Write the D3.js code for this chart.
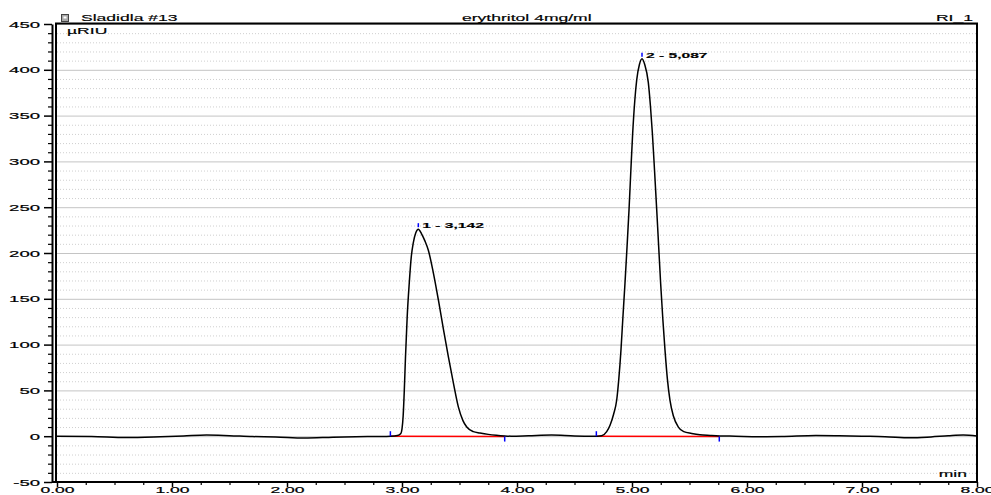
<!DOCTYPE html>
<html>
<head>
<meta charset="utf-8">
<script src="https://cdn.jsdelivr.net/npm/d3@7"></script>
<style>
  body { margin: 0; background: #fff; }
  svg { display: block; font-family: "Liberation Sans", Arial, sans-serif; }
</style>
</head>
<body>
<svg id="chart" width="991" height="495"></svg>
<script>
// retention time (min) and detector signal (µRIU)
const timeMin = [
  0.00, 0.30, 0.60, 0.90, 1.10, 1.30, 1.50, 1.70, 1.90, 2.15, 2.40, 2.60, 2.80, 2.90,
  2.96, 2.99, 3.00, 3.01, 3.02, 3.03, 3.045, 3.063, 3.08, 3.098, 3.12, 3.142,
  3.17, 3.20, 3.229, 3.27, 3.316, 3.36, 3.403, 3.45, 3.49, 3.53, 3.563, 3.62, 3.678, 3.75, 3.82, 3.89,
  3.95, 4.10, 4.30, 4.50, 4.65, 4.70,
  4.736, 4.78, 4.809, 4.84, 4.867, 4.885, 4.904, 4.92, 4.939, 4.957, 4.974, 4.99, 5.006, 5.024, 5.041, 5.065, 5.087,
  5.11, 5.142, 5.16, 5.177, 5.196, 5.215, 5.232, 5.249, 5.268, 5.287, 5.308, 5.33, 5.36, 5.403, 5.45, 5.519, 5.59, 5.68, 5.76,
  5.90, 6.10, 6.30, 6.60, 6.80, 7.00, 7.20, 7.42, 7.60, 7.75, 7.88, 8.00
];
const signal = [
  0.0, -0.3, -1.5, -0.6, 0.3, 1.3, 0.6, -0.4, -0.8, -2.0, -1.1, -0.5, -0.3, 0.0,
  0.8, 3, 8, 22, 50, 85, 130, 167, 195, 211, 222, 226,
  221, 213, 203, 180, 149, 117, 87, 56, 32, 17, 10, 5, 3.5, 2, 1, 0.3,
  0.0, 0.5, 1.2, 0.3, 0.0, 0.0,
  0.5, 5, 12, 24, 39.5, 62, 94, 128, 167, 207, 247, 290, 331, 366, 389, 406, 412,
  406, 386, 361, 331, 290, 247, 207, 167, 128, 94, 62, 39.5, 22, 10, 5, 3, 1.5, 0.8, 0.3,
  0.0, -0.5, -0.3, 0.8, 0.5, 0.0, -0.5, -1.8, -0.8, 0.5, 1.3, 0.2
];

// integrated peaks
const peakLabels = ["1 - 3,142", "2 - 5,087"];
const peakTimes = [3.142, 5.087];
const peakHeights = [226, 412];
const baseStartTimes = [2.899, 4.69];
const baseEndTimes = [3.893, 5.759];
const baseStartValues = [0.0, 0.0];
const baseEndValues = [-0.4, -0.4];

// axes
const yMajorTicks = [-50, 0, 50, 100, 150, 200, 250, 300, 350, 400, 450];
const yMinorTicks = d3.range(-50, 451, 10);
const xMajorTicks = [0, 1, 2, 3, 4, 5, 6, 7, 8];
const xMinorTicks = d3.range(0, 8.01, 0.25);

const SX = 1.95; // the export uses a very wide font
const svg = d3.select("#chart");

const plotL = 57, plotR = 977, plotT = 24, plotB = 482;

const x = d3.scaleLinear().domain([0, 8]).range([plotL, plotR]);
const y = d3.scaleLinear().domain([-50, 450]).range([plotB, plotT]);

function widen(sel) {
  sel.each(function() {
    const t = d3.select(this);
    const px = +t.attr("x") || 0;
    t.attr("x", px / SX).attr("transform", `scale(${SX},1)`);
  });
}

function label(txt, px, py, anchor, size, weight) {
  return svg.append("text")
    .attr("transform", `translate(${px},${py}) scale(${SX},1)`)
    .attr("text-anchor", anchor || "start")
    .style("font-size", (size || 9) + "px")
    .style("font-weight", weight || "normal")
    .attr("fill", "#000")
    .attr("stroke", "#000")
    .attr("stroke-width", 0.15)
    .text(txt);
}

// minor dotted grid
svg.append("g")
  .attr("transform", `translate(${plotL},0)`)
  .call(d3.axisLeft(y).tickValues(yMinorTicks.filter(d => d % 50 !== 0))
    .tickSize(-(plotR - plotL)).tickFormat(""))
  .call(g => g.select(".domain").remove())
  .selectAll("line")
  .attr("stroke", "#cfcfcf")
  .attr("stroke-dasharray", "1,2");

// major solid grid
svg.append("g")
  .attr("transform", `translate(${plotL},0)`)
  .call(d3.axisLeft(y).tickValues(yMajorTicks).tickSize(-(plotR - plotL)).tickFormat(""))
  .call(g => g.select(".domain").remove())
  .selectAll("line")
  .attr("stroke", "#c4c4c4");

// integration baselines (red)
svg.append("g").selectAll("line")
  .data(baseStartTimes)
  .enter().append("line")
  .attr("x1", (d, i) => x(d))
  .attr("y1", (d, i) => y(baseStartValues[i]))
  .attr("x2", (d, i) => x(baseEndTimes[i]))
  .attr("y2", (d, i) => y(baseEndValues[i]))
  .attr("stroke", "#ff0000")
  .attr("stroke-width", 1.5);

// chromatogram trace
const trace = timeMin.map((t, i) => [t, signal[i]]);
svg.append("path")
  .datum(trace)
  .attr("fill", "none")
  .attr("stroke", "#000")
  .attr("stroke-width", 1.5)
  .attr("d", d3.line().x(d => x(d[0])).y(d => y(d[1])).curve(d3.curveMonotoneX));

// peak start / end markers
svg.append("g").selectAll("line")
  .data(baseStartTimes)
  .enter().append("line")
  .attr("x1", d => x(d)).attr("x2", d => x(d))
  .attr("y1", (d, i) => y(baseStartValues[i]) - 5)
  .attr("y2", (d, i) => y(baseStartValues[i]))
  .attr("stroke", "#0000ff").attr("stroke-width", 1.5);

svg.append("g").selectAll("line")
  .data(baseEndTimes)
  .enter().append("line")
  .attr("x1", d => x(d)).attr("x2", d => x(d))
  .attr("y1", (d, i) => y(baseEndValues[i]))
  .attr("y2", (d, i) => y(baseEndValues[i]) + 5)
  .attr("stroke", "#0000ff").attr("stroke-width", 1.5);

// apex markers and labels
svg.append("g").selectAll("line")
  .data(peakTimes)
  .enter().append("line")
  .attr("x1", d => x(d)).attr("x2", d => x(d))
  .attr("y1", (d, i) => y(peakHeights[i]) - 6)
  .attr("y2", (d, i) => y(peakHeights[i]) - 2)
  .attr("stroke", "#0000ff").attr("stroke-width", 1.5);

peakLabels.forEach((txt, i) => {
  label(txt, x(peakTimes[i]) + 4, y(peakHeights[i]) - 1, "start", 8, "bold");
});

// frame
svg.append("path")
  .attr("d", `M52,${plotB}H${plotR}V${plotT - 0.5}H${plotL - 1}V${plotB}`)
  .attr("fill", "none")
  .attr("stroke", "#000")
  .attr("stroke-width", 2);

// y axis (offset a few px from the frame)
const yAxisG = svg.append("g")
  .attr("transform", "translate(52,0)")
  .call(d3.axisLeft(y).tickValues(yMajorTicks).tickSize(8).tickPadding(4)
    .tickSizeOuter(0).tickFormat(d => String(d)));
yAxisG.select(".domain").attr("stroke-width", 2);
yAxisG.selectAll(".tick line").attr("stroke-width", 1.5);
yAxisG.selectAll(".tick text").style("font-size", "9.5px")
  .attr("fill", "#000").attr("stroke", "#000").attr("stroke-width", 0.2);
widen(yAxisG.selectAll(".tick text"));

svg.append("g")
  .attr("transform", "translate(52,0)")
  .call(d3.axisLeft(y).tickValues(yMinorTicks.filter(d => d % 50 !== 0))
    .tickSize(4).tickFormat(""))
  .call(g => g.select(".domain").remove())
  .selectAll("line").attr("stroke-width", 1.2);

// x axis
const xAxisG = svg.append("g")
  .attr("transform", `translate(0,${plotB})`)
  .call(d3.axisBottom(x).tickValues(xMajorTicks).tickSize(5).tickPadding(0)
    .tickSizeOuter(0).tickFormat(d => d.toFixed(2)));
xAxisG.select(".domain").remove();
xAxisG.selectAll(".tick line").attr("stroke-width", 1.5);
xAxisG.selectAll(".tick text").style("font-size", "9px").attr("dy", "0.68em")
  .attr("fill", "#000").attr("stroke", "#000").attr("stroke-width", 0.2);
widen(xAxisG.selectAll(".tick text"));

svg.append("g")
  .attr("transform", `translate(0,${plotB})`)
  .call(d3.axisBottom(x).tickValues(xMinorTicks.filter(d => d % 1 !== 0))
    .tickSize(3).tickFormat(""))
  .call(g => g.select(".domain").remove())
  .selectAll("line").attr("stroke-width", 1.2);

// header
svg.append("rect")
  .attr("x", 61.5).attr("y", 14.5).attr("width", 7).attr("height", 7)
  .attr("fill", "#a8a8a8").attr("stroke", "#444");
svg.append("rect")
  .attr("x", 63.5).attr("y", 16.5).attr("width", 3).attr("height", 2)
  .attr("fill", "#fff");
label("Sladidla #13", 81, 21);
label("erythritol 4mg/ml", 462, 21);
label("RI_1", 973, 21, "end");
label("µRIU", 67, 34);
label("min", 967, 477, "end");
</script>
</body>
</html>
